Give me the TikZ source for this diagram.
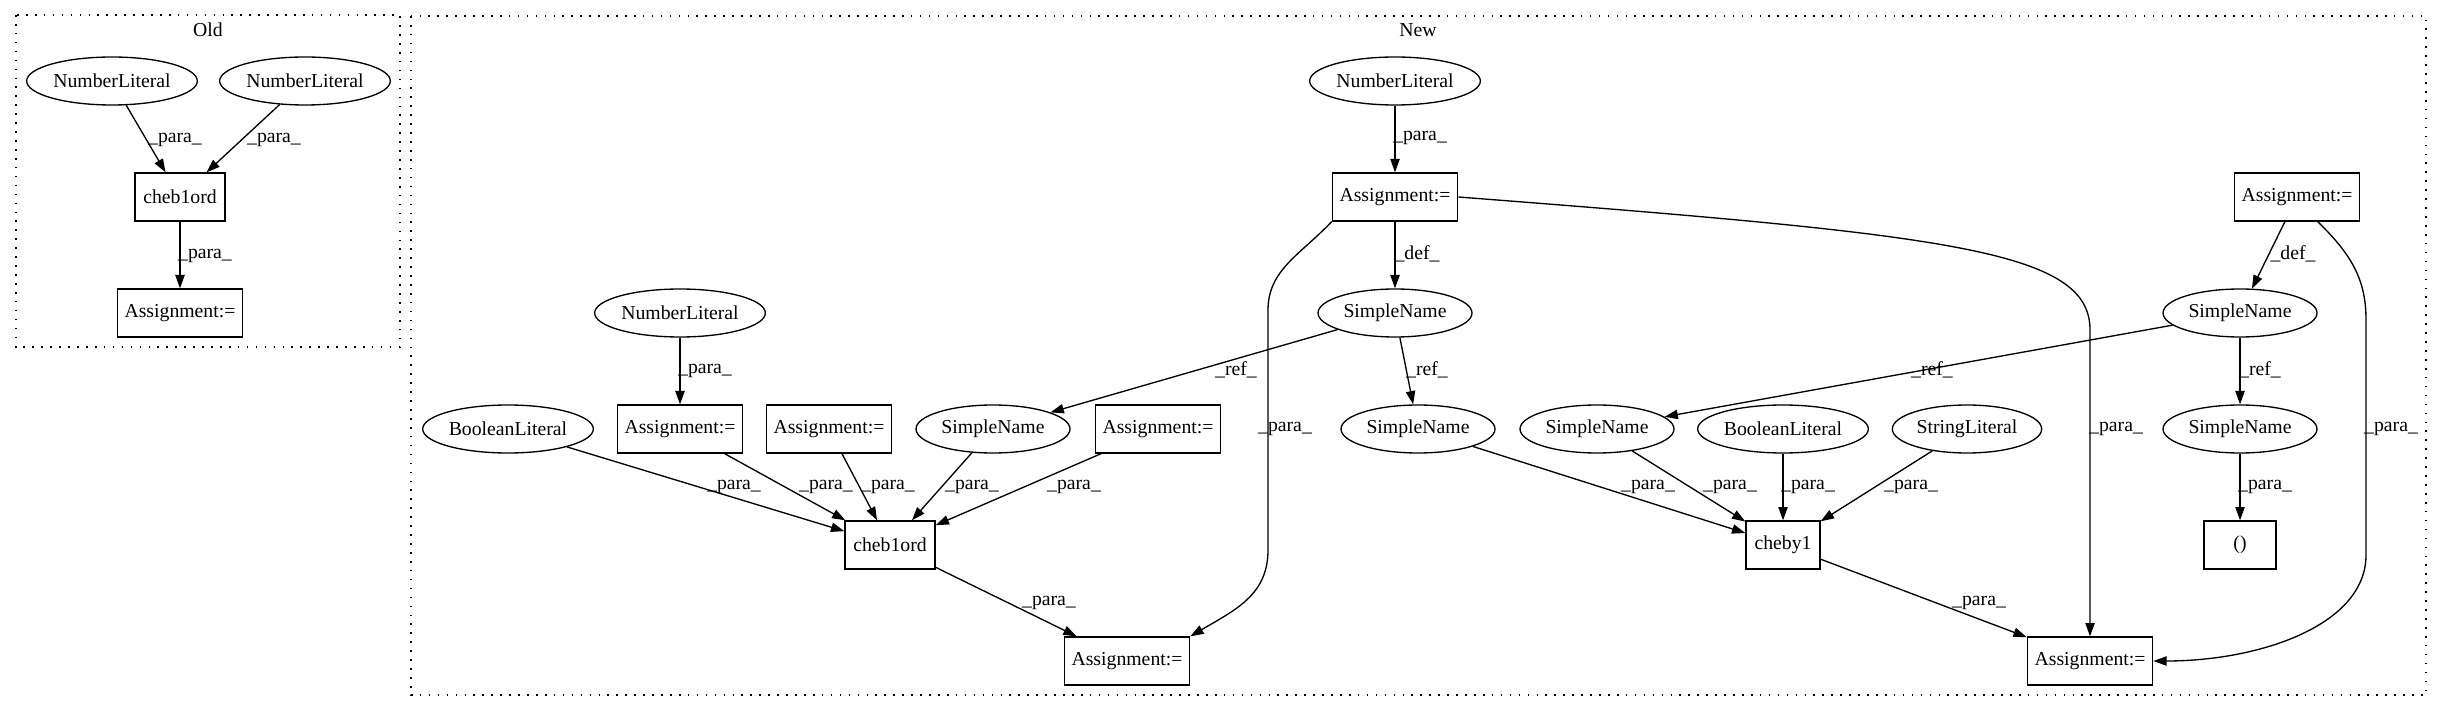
\documentclass[tikz,border=0pt]{standalone}
\usepackage{fontspec}
\setmainfont{Liberation Serif}
\usetikzlibrary{arrows.meta,shapes.geometric}
\begin{document}
\begin{tikzpicture}[x=0.75pt,y=-0.75pt,line width=1pt,
    every node/.style={font=\fontsize{14.8}{17}\selectfont},
    lit/.style={draw,ellipse,inner sep=0pt,minimum height=36pt,minimum width=#1},
    lit/.default=128pt,
    box/.style={draw,rectangle,inner sep=0pt,minimum height=36pt,minimum width=#1},
    box/.default=94pt,
    edge/.style={-{Triangle[length=10pt,width=7pt]}},
    lbl/.style={inner sep=0pt},
    clus/.style={dash pattern=on 1.2pt off 5.5pt}]
    \useasboundingbox (0,0) rectangle (2443,712);
    \draw[clus] (16,15) rectangle (400,347);
    \draw[clus] (411,16) rectangle (2426,695);
    \node (old) at (208,30) {Old};
    \node (new) at (1418,30) {New};

    % Old
    \node[lit] (oldnumA) at (112,81) {NumberLiteral};
    \node[lit] (oldnumB) at (305,81) {NumberLiteral};
    \node[box=67.5pt] (oldcheb) at (180,197) {cheb1ord};
    \node[box] (oldasg) at (180,313) {Assignment:=};
    \draw[edge] (oldnumA) -- (oldcheb) node[lbl] at (175,140) {\_para\_};
    \draw[edge] (oldnumB) -- (oldcheb) node[lbl] at (274,140) {\_para\_};
    \draw[edge] (oldcheb) -- (oldasg) node[lbl] at (205,256) {\_para\_};

    % New
    \node[lit] (numA) at (1395,81) {NumberLiteral};
    \node[box] (asgA) at (1395,197) {Assignment:=};
    \node[lit=115.5pt] (simA) at (1395,313) {SimpleName};
    \node[lit] (numB) at (680,313) {NumberLiteral};
    \node[lit] (boolA) at (508,429) {BooleanLiteral};
    \node[box] (asgB) at (680,429) {Assignment:=};
    \node[box] (asgC) at (829,429) {Assignment:=};
    \node[lit=115.5pt] (simB) at (993,429) {SimpleName};
    \node[box] (asgD) at (1158,429) {Assignment:=};
    \node[box=67.5pt] (cheb) at (890,545) {cheb1ord};
    \node[box] (asgL) at (1127,661) {Assignment:=};
    \node[lit=115.5pt] (simC) at (1418,429) {SimpleName};
    \node[lit=115.5pt] (simD) at (1597,429) {SimpleName};
    \node[lit] (boolB) at (1783,429) {BooleanLiteral};
    \node[lit=112pt] (strA) at (1967,429) {StringLiteral};
    \node[box=55.5pt] (cheby) at (1783,545) {cheby1};
    \node[box] (asgR) at (2090,661) {Assignment:=};
    \node[box] (asgT) at (2297,197) {Assignment:=};
    \node[lit=115.5pt] (simF) at (2240,313) {SimpleName};
    \node[lit=115.5pt] (simE) at (2240,429) {SimpleName};
    \node[box=54pt] (empty) at (2240,545) {()};

    \draw[edge] (numA) -- (asgA) node[lbl] at (1420,138) {\_para\_};
    \draw[edge] (asgA) -- (simA) node[lbl] at (1417,254) {\_def\_};
    \draw[edge] (simA) -- (simB) node[lbl] at (1236,370) {\_ref\_};
    \draw[edge] (simA) -- (simC) node[lbl] at (1427,370) {\_ref\_};
    \draw[edge] (numB) -- (asgB) node[lbl] at (705,371) {\_para\_};
    \foreach \src/\lx in {boolA/734,asgB/826,asgC/888,simB/972,asgD/1074}
        {
            \draw[edge] (\src) -- (cheb) node[lbl] at (\lx,487) {\_para\_};
        }
    \draw[edge] (cheb) -- (asgL) node[lbl] at (1049,603) {\_para\_};
    \draw[edge] (asgA.south west) .. controls (1300,255) and (1268,270) .. (1268,310)
        -- (1268,550) node[lbl] at (1285,429) {\_para\_}
        .. controls (1268,595) and (1235,610) .. (asgL.north east);
    \draw[edge] (asgA.east) .. controls (1950,235) and (2090,250) .. (2090,330)
        -- (asgR) node[lbl] at (2116,429) {\_para\_};
    \foreach \src/\lx in {simC/1648,simD/1730,boolB/1808,strA/1911}
        {
            \draw[edge] (\src) -- (cheby) node[lbl] at (\lx,487) {\_para\_};
        }
    \draw[edge] (cheby) -- (asgR) node[lbl] at (1979,603) {\_para\_};
    \draw[edge] (asgT) -- (simF) node[lbl] at (2293,254) {\_def\_};
    \draw[edge] (simF) -- (simD) node[lbl] at (1932,370) {\_ref\_};
    \draw[edge] (simF) -- (simE) node[lbl] at (2260,370) {\_ref\_};
    \draw[edge] (simE) -- (empty) node[lbl] at (2265,487) {\_para\_};
    \draw[edge] (asgT.-50) .. controls (2352,255) and (2366,280) .. (2366,320)
        -- (2366,555) node[lbl] at (2391,429) {\_para\_}
        .. controls (2366,625) and (2260,661) .. (asgR.east);
\end{tikzpicture}
\end{document}
